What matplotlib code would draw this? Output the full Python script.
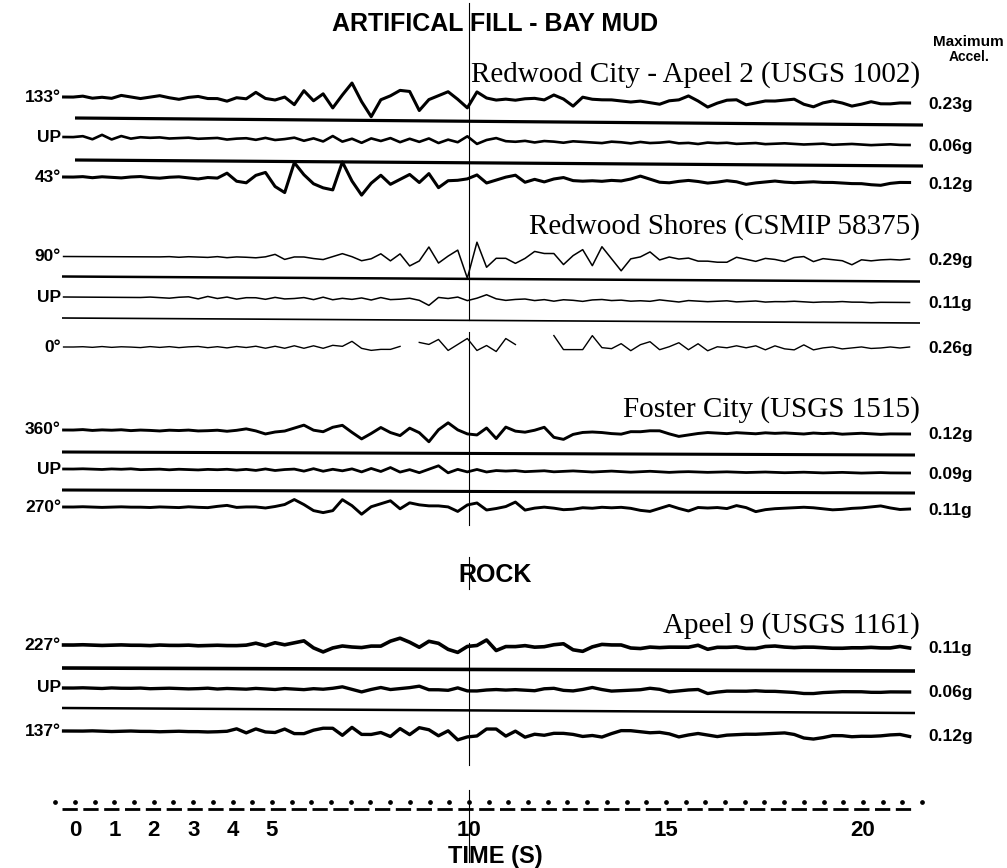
import numpy as np
import matplotlib
matplotlib.use("Agg")
import matplotlib.pyplot as plt

plt.rcParams['font.family'] = ['Liberation Sans', 'DejaVu Sans']
plt.rcParams['lines.scale_dashes'] = False

# digitised accelerograms, amplitude in pixels of the original figure (up = +)
# one reading every 0.244 s, first one at t = -0.29 s
t0, dt = -0.29, 0.244

# Redwood City - Apeel 2
amp_133 = [0, 0, 1, -1, 0, -1, 2, 0.5, -1, 0.5,
           2, 0, -1.5, 0.5, 1.5, -0.5, -0.5, -3, 0.5, -0.5,
           6, 0, -1.5, 1.5, -6, 8, -2, 5, -9, 4,
           16, -2.5, -17.5, -0.5, 3.5, 9, 8, -11, 0, 4,
           8, 0.5, -8, 8, 2, 0, 1, 0, 1.5, 2,
           0.5, 5.5, 1.5, -5.5, 3.5, 1.5, 1, 1, 0, -1,
           0, -1.5, -3, 0.5, 1.5, 5.5, 0.5, -5.5, -1.5, 1.5,
           2, -3, -1, 1, 1, 2, 3, -2, -4.5, -0.5,
           1.5, -0.5, -3.5, -1.5, 1, -1, -1, 0, 0]
amp_up1 = [0, 0, 1, -2, 2.5, -2, 1.5, -1, 0.5, 0,
           0.5, -0.5, 0, 0.5, -0.5, 0, 0.5, -1, 0, 0.5,
           -1, 1, -1, 0, 1.5, -1.5, 1, -2, 3.5, -2,
           1, -3, 1.5, -1, 2, -2, 1.5, -1.5, 2, -2.5,
           1, -1.5, 4.5, -3, 1, 3, 0, -0.5, 0.5, -1,
           0.5, 0, -1, 0.5, 0, -0.5, -1, 0.5, 0, -1,
           0.5, -0.5, 0, 1, -0.5, 0, -1, 0.5, 0, 0.5,
           -0.5, 0, 0.5, -0.5, 0, 0.5, 0, -0.5, 0, 0.5,
           -0.5, 0, 0.5, 0, -0.5, 0, 0.5, 0, 0]
amp_43 = [0, 0, 0.5, -0.5, 0.5, 0, -0.5, 0.5, 1, 0,
          -0.5, 0.5, 1, 0, -1, 0.5, 0, 5, -3, -4.5,
          3, 6, -8, -14, 16, 4, -5, -9, -11, 17,
          -2, -16, -4, 4, -5, 0, 5, -3, 6, -8,
          -1, -0.5, 1, 5, -3, 0, 3, 5, -2, 1,
          -1.5, 1.5, 3, 0, -0.5, 0, -0.5, 0.5, 0, 2,
          5, 2, -1, -1.5, 0, 1, 0, -1.5, -0.5, 1,
          0, -2.5, -1, 0, 1, 0, -0.5, 0, 0.5, 0,
          0, -0.5, -1, -1, -2, -2.5, -0.5, 0.5, 0.5]

# Redwood Shores (CSMIP 58375)
amp_90 = [0, 0, 0, 0, 0, 0, 0, 0, 0, 0,
          0, 0.3, -0.3, 0.3, 0, -0.3, 0.5, -0.5, 0.3, 0,
          -0.5, 0.5, 3, -2, 0.5, 0.5, -1, -2, 1, 4,
          1, -3, -1, 4, -3, 4, -8, -3, 11, -5,
          2, 8, -20, 16, -9, 0, 0, -5, 0, 7,
          5, 5, -6, 3, 9, -7, 12, 0, -12, 0,
          2, 7, -1, 2, 0, 1, -2, -2, -3, -3,
          2, 0, -2, 1, 0, -2, 2, 3, -2, 1,
          0, -1, -5, 0, -1, 0, 0.5, 0, 1]
amp_up2 = [0, 0, 0, 0, 0, 0, 0, 0, 0, 0.5,
           0, -0.5, 0.5, 1, -1, 1.5, -0.5, 1, -1, 0.5,
           0.5, -1, 1, -0.5, 0, 1, -1, 1.5, -1, 0.5,
           -0.5, 1, -1, 1.5, -0.5, 0, 1, -1, -6, 2,
           1, 2.5, -1, 1.5, 5, 1, -0.5, 0.5, 1, -0.5,
           0.5, -1, 0.5, 0, -1, 0.5, 1, 0, 0.5, -0.5,
           0, -0.5, 1, 0, -1, 0.5, 0, -0.5, 0, 0.5,
           -0.5, 0, 0.5, -0.5, 0, 0, 0.5, 0, -0.5, 0,
           0, 0.5, 0, 0, -0.5, 0, 0, 0, 0]
nan = np.nan  # pen skipped on the original record
amp_0 = [0, 0, 0.3, -0.3, 0.5, -0.3, 0.3, 0, -0.5, 0.5,
         -0.3, 0.5, -0.5, 0.3, 0.7, -0.5, 0.5, -0.7, 0.7, -0.3,
         1, -1, 1, -1, 1.5, -1, 1.5, -1, 2, 1,
         6, -1, -3, -2, -2, 1, nan, 5, 3, 8,
         -3, 3, 9, -3, 2, -4, 9, 3, nan, -2,
         nan, 12, -2, -2, -2, 12, 0, -1, 4, -3,
         3, 6, -2, 1, 5, -2, 4, -3, 1, 0,
         2, 0, 2, -2, 2, -1, -2, 3, -2, 0,
         1, -1, 0, 1, -0.5, 0, 1, 0, 1]

# Foster City (USGS 1515)
amp_360 = [0, 0, 0.5, -0.3, 0.3, 0, 0.5, -0.3, 0.3, 0,
           -0.5, 0.3, 0, 0.5, -0.3, 0, 0.5, -0.5, 0.5, 2,
           0, -3, -1, 0, 3, 6, 1, -0.5, 4, 6,
           -1, -7.5, -2, 4, -1, -4, 3.5, -1, -10, 2,
           9, 2, -2, -3, 4, -6.5, 5, 1, 0, 2,
           5, -5, -7, -2, 0, 0.5, 0, -1, -1.5, 1,
           1, 2, 2, -1, -3.5, -2, -0.5, 0.5, 0, -0.5,
           0.5, 0, -0.5, 0.5, 0, 0.5, 0, -0.5, 0.5, 0,
           0.5, -0.5, 0, 0.5, 0, -0.5, 0, 0, 0]
amp_up3 = [0, 0, 0.3, 0, -0.3, 0.3, 0, 0.5, -0.3, 0,
           0.3, -0.3, 0.3, 0, -0.3, 0.3, 0, 0.5, -0.3, 0.5,
           -0.5, 1, -0.5, 0.5, 1, -1, 1.5, -1, 1, -0.5,
           1.5, -1.5, 2, -1, 3, -1.5, 1, -2, 1.5, 5,
           -2, 1.5, -1, 1.5, -1, 0.5, 0, 0.5, -0.5, 0,
           0.5, -0.5, 0, 0.5, 0, -0.5, 0, 0.5, 0, -0.5,
           0, 0.5, 0, -0.5, 0, 0.3, 0, -0.3, 0, 0.3,
           0, -0.3, 0, 0.3, 0, -0.3, 0, 0.3, 0, -0.3,
           0, 0.3, 0, -0.3, 0, 0.3, 0, 0, 0]
amp_270 = [0, 0, 0.3, 0, -0.3, 0, 0.3, 0, 0, -0.3,
           0.3, 0, -0.3, 0.5, 0, -0.3, 1, 2, 0, 0.5,
           0.5, -0.5, 1, 3, 8, 3, -3, -5, -3, 8,
           2, -6.5, 1, 4, 7, -1, 5, 3, 2, 2,
           1, -3.5, 3, 5, -2, -0.5, 1.5, 6, -2, 0,
           1, 0, -1.5, -1, 0.5, 0, 1, 0.5, 1, 0,
           -2, -3, 0, 3, 0, -2.5, 1, 0.5, 1, 0,
           3, 1, -3, -1, 0, 0.5, 1, 1.5, 1, 0,
           -1, -0.5, 0.5, 1, 2, 3, 1, -0.5, 0]

# Apeel 9 (USGS 1161), rock site
amp_227 = [0, 0, 0.3, 0, -0.3, 0, 0.3, 0, 0, -0.3,
           0.3, 0, 0, 0.3, -0.3, 0, 0.3, 0, 0, 0.5,
           2.5, 0, 3, 1, 3, 5, -2, -6, -2, 0,
           -1, -1.5, 0, 0, 5, 8, 4, -1, 5, 3,
           -3, -6, 0, 1, 6.5, -4, 0, 0, 1, -0.5,
           0, 2, 3, -3, -4.5, 0, 2.5, 2, 2, -1,
           -1.5, 0, -0.5, 0, 0, 0, 2, -2, 0, 0,
           0.5, -1, -1, 1, 1.5, 0.5, 0, 0.5, 0.5, 0,
           -0.5, -0.5, 0, 0, 0.5, 0, 0, 1.5, 0]
amp_up4 = [0, 0, 0.3, 0, -0.3, 0.3, 0, 0, 0.3, -0.3,
           0, 0.3, 0, -0.3, 0, 0.5, -0.3, 0.3, 0, -0.3,
           0.5, 0, -0.5, 0.5, 0, -0.5, 0.5, 0, 1, 2.5,
           0, -2.5, 0, 2, 0, 1, 2, 3.5, 0, 0,
           -0.5, 2, -1, -1, 0, 0.5, 0, 0.5, 0, -0.5,
           1.5, 2, 0, -0.5, 1, 3, 1, -0.5, 0, 0.5,
           1, 2.5, 1.5, -1, 0, 1, 1.5, -2.5, -1, 0,
           0, 0, 0.5, 0, 0, -0.5, -1, -2, -2, -1,
           -0.5, 0, 0, 0, -0.5, -0.5, 0, 0, 0]
amp_137 = [0, 0, 0, 0.3, 0, -0.3, 0, 0.3, 0, 0,
           -0.3, 0, 0.3, 0, 0, -0.3, 0, 0.5, 3, -1,
           3, 0, -0.5, 3, -1.5, -1.5, 2, 4, 4, -3,
           5, -2, -2, 0, -4, 4, -2, 5, 3, -3,
           2, -7, -4, -3, 4, 4, -3, 2, -4, -1,
           -2, 0, 0, -1, -3, -2, -3.5, 0, 3, 3,
           2, 1, 1.5, 0, -3, -1, 0.5, -1, -2.5, -1,
           -0.5, 0, 0, 0.5, 1, 1.5, 0, -3.5, -4.5, -3,
           -1, -1, -2, -1.5, -1.5, -1, 0, 0.5, -1.5]

components = ['133°', 'UP', '43°', '90°', 'UP', '0°',
              '360°', 'UP', '270°', '227°', 'UP', '137°']
max_accel = ['0.23g', '0.06g', '0.12g', '0.29g', '0.11g', '0.26g',
             '0.12g', '0.09g', '0.11g', '0.11g', '0.06g', '0.12g']
stations = ['Redwood City - Apeel 2 (USGS 1002)', 'Redwood Shores (CSMIP 58375)',
            'Foster City (USGS 1515)', 'Apeel 9 (USGS 1161)']
tick_seconds = [0, 1, 2, 3, 4, 5, 10, 15, 20]

traces = [amp_133, amp_up1, amp_43, amp_90, amp_up2, amp_0,
          amp_360, amp_up3, amp_270, amp_227, amp_up4, amp_137]

# ---- layout (pixel rows of the scanned page) ----
px_per_s = 39.4
x_zero = 75


def px(x):
    return (x - x_zero) / px_per_s


base_rows = [(97, 103), (137, 145), (177, 183),
             (256.5, 260), (297, 302.5), (347, 348),
             (430, 434), (469, 473), (507, 509),
             (645, 648), (688, 692), (731, 735)]
trace_lw = [2.2, 1.9, 2.2, 1.1, 1.1, 1.0, 2.1, 2.0, 2.1, 2.6, 2.4, 2.4]

# straight reference lines between the records
ref_lines = [(75, 923, 118, 125, 2.3), (75, 923, 160, 166, 2.3),
             (62, 920, 276.5, 281.5, 1.8), (62, 920, 318, 323, 1.2),
             (62, 915, 452, 455, 2.2), (62, 915, 490, 493, 2.2),
             (62, 915, 668, 671, 2.6), (62, 915, 708, 713, 1.8)]
station_rows = [82, 234, 417, 633]

fig = plt.figure(figsize=(10.07, 8.68), dpi=100)
ax = fig.add_axes([0, 0, 1, 1])
ax.set_xlim(px(0), px(1007))
ax.set_ylim(868, 0)
ax.axis('off')

for amps, (yl, yr), lw, comp, acc in zip(traces, base_rows, trace_lw,
                                         components, max_accel):
    a = np.array(amps, dtype=float)
    t = t0 + dt * np.arange(len(a))
    base = np.linspace(yl, yr, len(a))
    ax.plot(t, base - a, color='black', lw=lw, solid_joinstyle='round')
    ax.text(px(61), yl, comp, ha='right', va='center', fontsize=12.5,
            fontweight='bold')
    ax.text(px(928), yr + 1, acc, ha='left', va='center', fontsize=12.5,
            fontweight='bold')

for x1, x2, y1, y2, lw in ref_lines:
    ax.plot([px(x1), px(x2)], [y1, y2], color='black', lw=lw,
            solid_capstyle='butt')

for name, yb in zip(stations, station_rows):
    ax.text(px(920), yb, name, ha='right', va='baseline', fontsize=21,
            family=['Liberation Serif', 'DejaVu Serif'])

ax.text(px(495), 31, 'ARTIFICAL FILL - BAY MUD', ha='center', va='baseline',
        fontsize=18, fontweight='bold')
ax.text(px(495), 582, 'ROCK', ha='center', va='baseline', fontsize=18,
        fontweight='bold')
ax.text(px(1004), 46, 'Maximum', ha='right', va='baseline', fontsize=11,
        fontweight='bold')
ax.text(px(990), 61, 'Accel.', ha='right', va='baseline', fontsize=10,
        fontweight='bold')

# 10 s marker line
for y1, y2 in [(3, 320), (332, 525), (557, 589), (643, 765), (790, 862)]:
    ax.plot([10, 10], [y1, y2], color='black', lw=0.8)

# time scale: dotted half-second marks over a dashed bar
dots = np.arange(-0.5, 21.6, 0.5)
ax.plot(dots, np.full(len(dots), 802), 'o', color='black', ms=2.4)
ax.plot([px(62), px(915)], [809, 809], color='black', lw=2.0,
        dashes=(11, 4))
for s in tick_seconds:
    ax.text(s, 830, str(s), ha='center', va='center', fontsize=16,
            fontweight='bold')
ax.text(px(495), 856, 'TIME (S)', ha='center', va='center', fontsize=17,
        fontweight='bold')

fig.savefig('out.png', dpi=100)
